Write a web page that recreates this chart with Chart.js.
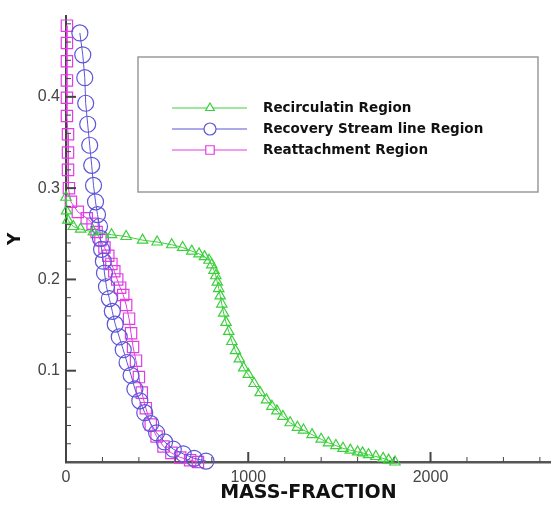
<!DOCTYPE html>
<html>
<head>
<meta charset="utf-8">
<script src="https://cdn.jsdelivr.net/npm/chart.js@4.4.1/dist/chart.umd.min.js"></script>
<style>
  html, body { margin: 0; padding: 0; background: #fff; }
  #wrap { width: 560px; height: 511px; }
</style>
</head>
<body>
<div id="wrap"><canvas id="massChart" width="560" height="511"></canvas></div>
<script>
// series names as in the legend
const seriesNames = ['Recirculatin Region', 'Recovery Stream line Region', 'Reattachment Region'];

// Recirculatin Region (green triangles)
const recircX = [0, 3, 10, 40, 80, 150, 250, 330, 420, 500, 580, 640, 690, 730, 760, 785, 800, 812, 822, 830,
  838, 846, 855, 865, 878, 893, 910, 930, 951, 975, 1000, 1032, 1065, 1100, 1130, 1157, 1190, 1230, 1270, 1303,
  1350, 1400, 1440, 1481, 1520, 1560, 1600, 1627, 1660, 1700, 1740, 1770, 1805];
const recircY = [0.290, 0.275, 0.265, 0.258, 0.255, 0.252, 0.249, 0.247, 0.243, 0.241, 0.238, 0.235, 0.231, 0.228, 0.225, 0.221, 0.216, 0.210, 0.204, 0.197,
  0.190, 0.182, 0.173, 0.163, 0.153, 0.143, 0.132, 0.122, 0.113, 0.103, 0.096, 0.086, 0.076, 0.068, 0.061, 0.056, 0.050, 0.043, 0.038, 0.035,
  0.030, 0.025, 0.021, 0.018, 0.015, 0.013, 0.011, 0.010, 0.008, 0.006, 0.004, 0.002, 0.000];

// Recovery Stream line Region (blue circles)
const recoveryX = [76, 92, 103, 108, 119, 130, 141, 151, 162, 173, 184, 189, 195, 205, 211, 222, 238, 254, 270, 292,
  314, 335, 357, 378, 405, 432, 465, 497, 541, 589, 643, 703, 768];
const recoveryY = [0.470, 0.446, 0.421, 0.393, 0.370, 0.347, 0.325, 0.303, 0.285, 0.271, 0.258, 0.245, 0.233, 0.220, 0.207, 0.192, 0.179, 0.165, 0.151, 0.137,
  0.123, 0.109, 0.095, 0.080, 0.067, 0.054, 0.042, 0.032, 0.022, 0.014, 0.009, 0.004, 0.001];

// Reattachment Region (magenta squares)
const reattachX = [5, 5, 5, 5, 5, 5, 11, 11, 11, 16, 27, 65, 114, 146, 168, 189, 211, 232, 249, 265,
  281, 297, 314, 330, 346, 357, 368, 384, 400, 416, 438, 465, 497, 535, 578, 627, 681, 724];
const reattachY = [0.478, 0.459, 0.439, 0.418, 0.399, 0.379, 0.359, 0.339, 0.320, 0.300, 0.285, 0.274, 0.267, 0.261, 0.252, 0.243, 0.235, 0.226, 0.217, 0.209,
  0.200, 0.191, 0.183, 0.172, 0.157, 0.141, 0.126, 0.111, 0.093, 0.076, 0.059, 0.041, 0.028, 0.017, 0.010, 0.005, 0.002, 0.000];

// axis ticks
const xTicks = [0, 200, 400, 600, 800, 1000, 1200, 1400, 1600, 1800, 2000, 2200, 2400, 2600];
const xLabelTicks = [0, 1000, 2000];
const yTicks = [0.02, 0.04, 0.06, 0.08, 0.1, 0.12, 0.14, 0.16, 0.18, 0.2, 0.22, 0.24, 0.26, 0.28, 0.3,
  0.32, 0.34, 0.36, 0.38, 0.4, 0.42, 0.44, 0.46, 0.48];
const yLabelTicks = [0.1, 0.2, 0.3, 0.4];

const colors = ['#3dcf3d', '#5b55d8', '#e23de2'];
const styles = ['triangle', 'circle', 'rect'];

const toPoints = (xs, ys) => xs.map((x, i) => ({ x: x, y: ys[i] }));

function makeSet(i, xs, ys, radius) {
  return {
    label: seriesNames[i],
    data: toPoints(xs, ys),
    showLine: true,
    borderColor: colors[i],
    borderWidth: 1,
    pointStyle: styles[i],
    pointRadius: radius,
    pointBorderColor: colors[i],
    pointBackgroundColor: 'rgba(0,0,0,0)',
    pointBorderWidth: 1.2,
    clip: false
  };
}

// short tick marks pointing into the plot
const innerTicks = {
  id: 'innerTicks',
  afterDraw(chart) {
    const ctx = chart.ctx;
    const area = chart.chartArea;
    const { x, y } = chart.scales;
    ctx.save();
    ctx.strokeStyle = '#444';
    x.ticks.forEach(t => {
      const px = x.getPixelForValue(t.value);
      const major = xLabelTicks.includes(t.value);
      ctx.lineWidth = major ? 2 : 1;
      ctx.beginPath();
      ctx.moveTo(px, area.bottom);
      ctx.lineTo(px, area.bottom - (major ? 10 : 5));
      ctx.stroke();
    });
    y.ticks.forEach(t => {
      const py = y.getPixelForValue(t.value);
      const major = yLabelTicks.includes(t.value);
      ctx.lineWidth = major ? 2 : 1;
      ctx.beginPath();
      ctx.moveTo(area.left, py);
      ctx.lineTo(area.left + (major ? 10 : 5), py);
      ctx.stroke();
    });
    ctx.restore();
  }
};

// boxed legend inside the plot
const boxLegend = {
  id: 'boxLegend',
  afterDraw(chart) {
    const ctx = chart.ctx;
    ctx.save();
    ctx.fillStyle = '#fff';
    ctx.fillRect(138, 57, 400, 135);
    ctx.strokeStyle = '#9a9a9a';
    ctx.lineWidth = 1.5;
    ctx.strokeRect(138, 57, 400, 135);
    const sizes = [5, 6, 6];
    chart.data.datasets.forEach((ds, i) => {
      const yy = 108 + i * 21;
      ctx.strokeStyle = colors[i];
      ctx.lineWidth = 1;
      ctx.beginPath();
      ctx.moveTo(172, yy);
      ctx.lineTo(247, yy);
      ctx.stroke();
      ctx.fillStyle = '#fff';
      ctx.lineWidth = 1.2;
      Chart.helpers.drawPoint(ctx, { pointStyle: styles[i], radius: sizes[i], rotation: 0, borderWidth: 1.2 }, 210, yy);
      ctx.fillStyle = '#111';
      ctx.font = 'bold 13.5px "DejaVu Sans"';
      ctx.textBaseline = 'middle';
      ctx.fillText(ds.label, 263, yy);
    });
    ctx.restore();
  }
};

const canvas = document.getElementById('massChart');

new Chart(canvas, {
  type: 'scatter',
  data: {
    datasets: [
      makeSet(0, recircX, recircY, 6),
      makeSet(1, recoveryX, recoveryY, 8),
      makeSet(2, reattachX, reattachY, 8)
    ]
  },
  options: {
    responsive: false,
    animation: false,
    devicePixelRatio: 1,
    layout: { padding: { top: 10, right: 3, left: 0, bottom: 0 } },
    plugins: {
      legend: { display: false },
      tooltip: { enabled: false }
    },
    scales: {
      x: {
        type: 'linear',
        min: 0,
        max: 2660,
        afterFit: s => { s.height = 49; },
        afterBuildTicks: s => { s.ticks = xTicks.map(v => ({ value: v })); },
        grid: { display: false, drawTicks: false },
        border: { display: true, color: '#555', width: 2.5 },
        ticks: {
          autoSkip: false,
          maxRotation: 0,
          padding: 6,
          color: '#444',
          font: { family: '"Liberation Sans"', size: 16 },
          callback: v => xLabelTicks.includes(v) ? String(v) : ''
        },
        title: {
          display: true,
          text: 'MASS-FRACTION',
          color: '#111',
          font: { family: '"DejaVu Sans"', size: 19, weight: 'bold' },
          padding: { top: 0, bottom: 7 }
        }
      },
      y: {
        type: 'linear',
        min: 0,
        max: 0.489,
        afterFit: s => { s.width = 66; },
        afterBuildTicks: s => { s.ticks = yTicks.map(v => ({ value: v })); },
        grid: { display: false, drawTicks: false },
        border: { display: true, color: '#444', width: 2 },
        ticks: {
          autoSkip: false,
          padding: 6,
          color: '#444',
          font: { family: '"Liberation Sans"', size: 16 },
          callback: v => yLabelTicks.includes(v) ? String(v) : ''
        },
        title: {
          display: true,
          text: 'Y',
          color: '#111',
          font: { family: '"DejaVu Sans"', size: 17, weight: 'bold' },
          padding: { top: 5, bottom: 0 }
        }
      }
    }
  },
  plugins: [innerTicks, boxLegend]
});
</script>
</body>
</html>
